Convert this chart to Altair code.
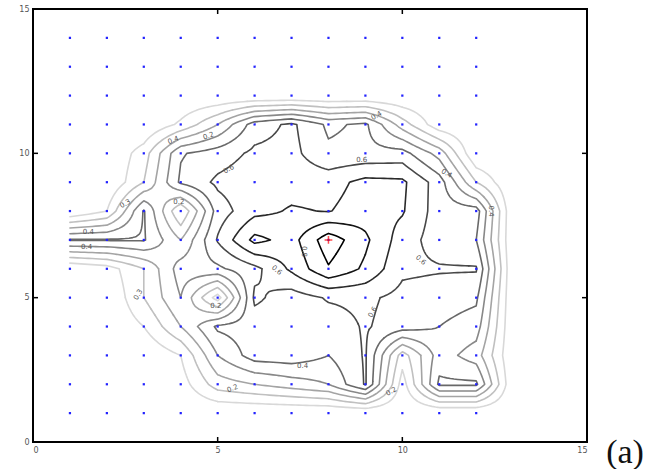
import numpy as np
import pandas as pd
import altair as alt
from collections import defaultdict

# ---------------- data ----------------
# field values on a regular grid, x = 1..13, y = 1..14 (rows listed from y=14 down to y=1)
grid_x = list(range(1, 14))
grid_y = list(range(1, 15))
row_y14 = [0, 0, 0, 0, 0, 0, 0, 0, 0, 0, 0, 0, 0]
row_y13 = [0, 0, 0, 0, 0, 0, 0, 0, 0, 0, 0, 0, 0]
row_y12 = [0, 0, 0, 0, 0, 0, 0, 0, 0, 0, 0, 0, 0]
row_y11 = [0, 0, 0, 0.12, 0.30, 0.55, 0.62, 0.48, 0.52, 0.25, 0.03, 0, 0]
row_y10 = [0, 0, 0.15, 0.49, 0.55, 0.62, 0.63, 0.52, 0.53, 0.54, 0.36, 0, 0]
row_y9 = [0, 0, 0.20, 0.52, 0.62, 0.66, 0.66, 0.66, 0.73, 0.72, 0.55, 0.20, 0]
row_y8 = [0, 0.10, 0.51, 0.10, 0.55, 0.67, 0.71, 0.695, 0.75, 0.71, 0.55, 0.55, 0]
row_y7 = [0.51, 0.51, 0.51, 0.30, 0.61, 0.83, 0.76, 0.96, 0.82, 0.65, 0.55, 0.50, 0]
row_y6 = [0, 0.05, 0.20, 0.45, 0.48, 0.57, 0.72, 0.89, 0.78, 0.62, 0.61, 0.61, 0]
row_y5 = [0, 0, 0.20, 0.40, 0.05, 0.62, 0.55, 0.61, 0.62, 0.57, 0.55, 0.52, 0]
row_y4 = [0, 0, 0.10, 0.30, 0.52, 0.55, 0.55, 0.55, 0.61, 0.55, 0.50, 0.45, 0]
row_y3 = [0, 0, 0, 0.10, 0.40, 0.55, 0.56, 0.50, 0.61, 0.15, 0.45, 0.35, 0]
row_y2 = [0, 0, 0, 0.05, 0.25, 0.30, 0.35, 0.40, 0.61, 0.05, 0.52, 0.52, 0]
row_y1 = [0, 0, 0, 0, 0, 0, 0, 0, 0, 0, 0, 0, 0]

levels = [0.1, 0.2, 0.3, 0.4, 0.5, 0.6, 0.7, 0.8, 0.9]
level_colors = ["#d8d8d8", "#c0c0c0", "#a4a4a4", "#888888", "#686868",
                "#484848", "#2a2a2a", "#141414", "#000000"]
level_widths = [1.6, 1.6, 1.6, 1.6, 1.7, 1.8, 1.9, 2.0, 2.1]

# sensor positions
dot_x = list(range(1, 13))
dot_y = list(range(1, 15))
# peak marker
peak_x = [8]
peak_y = [7]

# contour labels
lab_text = ["0.2", "0.4", "0.6", "0.6", "0.6", "0.6", "0.6", "0.8", "0.4", "0.4",
            "0.3", "0.3", "0.2", "0.2", "0.4", "0.2", "0.2", "0.4", "0.4", "0.4"]
lab_x = [4.75, 3.8, 5.3, 8.9, 10.5, 6.6, 9.2, 7.35, 1.5, 1.45,
         2.5, 2.85, 3.95, 4.95, 7.3, 5.4, 9.7, 12.4, 11.2, 9.3]
lab_y = [10.6, 10.45, 9.45, 9.78, 6.3, 5.95, 4.5, 6.6, 7.27, 6.75,
         8.25, 5.1, 8.3, 4.7, 2.65, 1.85, 1.75, 8.0, 9.3, 11.3]
lab_angle = [340, 340, 330, 0, 40, 40, 300, 90, 0, 0,
             330, 300, 0, 0, 0, 340, 330, 90, 30, 330]

axis_vals = [0, 5, 10, 15]
tick_vals = [5, 10]

# ---------------- contouring ----------------
Z = np.array([row_y1, row_y2, row_y3, row_y4, row_y5, row_y6, row_y7,
              row_y8, row_y9, row_y10, row_y11, row_y12, row_y13, row_y14], dtype=float)
step = 0.1
fx = np.round(np.arange(grid_x[0], grid_x[-1] + 1e-9, step), 6)
fy = np.round(np.arange(grid_y[0], grid_y[-1] + 1e-9, step), 6)
FX, FY = np.meshgrid(fx, fy)
ii = np.clip(np.floor(FX - grid_x[0]).astype(int), 0, len(grid_x) - 2)
jj = np.clip(np.floor(FY - grid_y[0]).astype(int), 0, len(grid_y) - 2)
tx = FX - grid_x[0] - ii
ty = FY - grid_y[0] - jj
F = (Z[jj, ii] * (1 - tx) * (1 - ty) + Z[jj, ii + 1] * tx * (1 - ty)
     + Z[jj + 1, ii + 1] * tx * ty + Z[jj + 1, ii] * (1 - tx) * ty)


def march(lev):
    segs = []
    ny, nx = F.shape
    for j in range(ny - 1):
        for i in range(nx - 1):
            v0, v1, v2, v3 = F[j, i], F[j, i + 1], F[j + 1, i + 1], F[j + 1, i]
            c = (v0 > lev) + 2 * (v1 > lev) + 4 * (v2 > lev) + 8 * (v3 > lev)
            if c == 0 or c == 15:
                continue
            x0, x1, y0, y1 = fx[i], fx[i + 1], fy[j], fy[j + 1]

            def e(k):
                if k == 0:
                    t = (lev - v0) / (v1 - v0)
                    return (x0 + t * (x1 - x0), y0)
                if k == 1:
                    t = (lev - v1) / (v2 - v1)
                    return (x1, y0 + t * (y1 - y0))
                if k == 2:
                    t = (lev - v3) / (v2 - v3)
                    return (x0 + t * (x1 - x0), y1)
                t = (lev - v0) / (v3 - v0)
                return (x0, y0 + t * (y1 - y0))

            center = (v0 + v1 + v2 + v3) / 4 > lev
            table = {1: [(3, 0)], 2: [(0, 1)], 3: [(3, 1)], 4: [(1, 2)],
                     5: [(0, 1), (2, 3)] if center else [(3, 0), (1, 2)],
                     6: [(0, 2)], 7: [(3, 2)], 8: [(2, 3)], 9: [(0, 2)],
                     10: [(3, 0), (1, 2)] if center else [(0, 1), (2, 3)],
                     11: [(1, 2)], 12: [(3, 1)], 13: [(0, 1)], 14: [(3, 0)]}
            for a, b in table[int(c)]:
                segs.append((e(a), e(b)))
    return segs


def chain(segs):
    key = lambda p: (round(p[0], 6), round(p[1], 6))
    adj = defaultdict(list)
    for k, (a, b) in enumerate(segs):
        adj[key(a)].append(k)
        adj[key(b)].append(k)
    used = [False] * len(segs)
    out = []
    for k in range(len(segs)):
        if used[k]:
            continue
        used[k] = True
        path = [segs[k][0], segs[k][1]]
        for _ in range(2):
            while True:
                end = path[-1]
                nxt = None
                for m in adj[key(end)]:
                    if not used[m]:
                        nxt = m
                        break
                if nxt is None:
                    break
                used[nxt] = True
                p, q = segs[nxt]
                path.append(q if key(p) == key(end) else p)
            path.reverse()
        out.append(path)
    return out


rows = []
lid = 0
for lev in levels:
    for path in chain(march(lev)):
        for n, (px, py) in enumerate(path):
            rows.append({"line": lid, "level": lev, "ord": n, "x": px, "y": py})
        lid += 1
contours = pd.DataFrame(rows)

dots = pd.DataFrame([(x, y) for y in dot_y for x in dot_x], columns=["x", "y"])
peak = pd.DataFrame({"x": peak_x, "y": peak_y})
labels = pd.DataFrame({"x": lab_x, "y": lab_y, "t": lab_text, "a": lab_angle})
ticks = pd.DataFrame({"t": tick_vals})

# ---------------- chart ----------------
W, H = 554, 433
xs = alt.Scale(domain=[0, 15], nice=False, zero=False)
ys = alt.Scale(domain=[0, 15], nice=False, zero=False)
ax_style = dict(title=None, grid=False, ticks=False, domain=False, labelFontSize=8,
                labelColor="#555555", labelFont="DejaVu Sans", format="d",
                values=axis_vals, labelPadding=4)
ax_x = alt.Axis(**ax_style)
ax_y = alt.Axis(**ax_style)


def X(f):
    return alt.X(f, scale=xs, axis=ax_x)


def Y(f):
    return alt.Y(f, scale=ys, axis=ax_y)


lines = alt.Chart(contours).mark_line(strokeJoin="round", strokeCap="round").encode(
    x=X("x:Q"),
    y=Y("y:Q"),
    detail="line:N",
    order="ord:Q",
    color=alt.Color("level:O", scale=alt.Scale(domain=levels, range=level_colors), legend=None),
    strokeWidth=alt.StrokeWidth("level:O", scale=alt.Scale(domain=levels, range=level_widths), legend=None),
)

lab_layer = alt.Chart(labels).mark_text(fontSize=7, font="DejaVu Sans", color="#555555").encode(
    x=X("x:Q"),
    y=Y("y:Q"),
    text="t:N",
    angle=alt.Angle("a:Q", scale=None),
)

dot_layer = alt.Chart(dots).mark_square(size=5, color="#2222ff", opacity=1).encode(
    x=X("x:Q"),
    y=Y("y:Q"),
)

peak_layer = alt.Chart(peak).mark_point(
    shape="M-1,0L1,0M0,-1L0,1", size=60, color="#ff0000", filled=False, strokeWidth=1.5
).encode(
    x=X("x:Q"),
    y=Y("y:Q"),
)

tick_b = alt.Chart(ticks).mark_rule(color="black", strokeWidth=1.5).encode(
    x=X("t:Q"), y=alt.value(H), y2=alt.value(H - 5))
tick_t = alt.Chart(ticks).mark_rule(color="black", strokeWidth=1.5).encode(
    x=X("t:Q"), y=alt.value(0), y2=alt.value(5))
tick_l = alt.Chart(ticks).mark_rule(color="black", strokeWidth=1.5).encode(
    y=Y("t:Q"), x=alt.value(0), x2=alt.value(5))
tick_r = alt.Chart(ticks).mark_rule(color="black", strokeWidth=1.5).encode(
    y=Y("t:Q"), x=alt.value(W), x2=alt.value(W - 5))

panel_tag = alt.Chart(pd.DataFrame({"t": ["(a)"]})).mark_text(
    font="Liberation Serif", fontSize=34, align="center", baseline="alphabetic", color="#111111"
).encode(text="t:N", x=alt.value(W + 38), y=alt.value(H + 21))

chart = alt.layer(
    lines, lab_layer, dot_layer, peak_layer, tick_b, tick_t, tick_l, tick_r, panel_tag
).properties(
    width=W, height=H,
    autosize=alt.AutoSizeParams(type="none"),
    padding={"left": 33, "top": 9, "right": 62, "bottom": 27},
).configure_view(stroke="black", strokeWidth=2)

chart.save("out.html", embed_options={"renderer": "svg", "actions": False})
